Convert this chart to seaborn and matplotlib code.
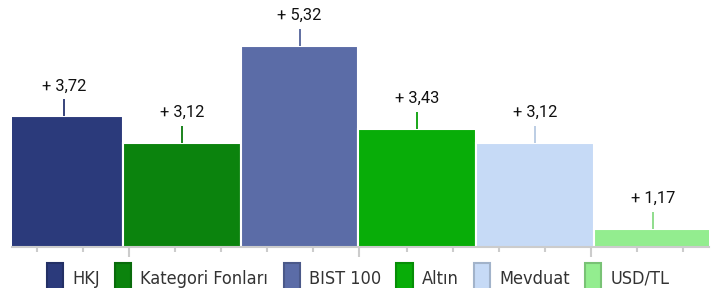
import matplotlib
matplotlib.use('Agg')
import matplotlib.pyplot as plt
import matplotlib.colors as mcolors
from matplotlib.patches import Patch
import seaborn as sns

# Chart data
categories = ['HKJ', 'Kategori Fonları', 'BIST 100', 'Altın', 'Mevduat', 'USD/TL']
values = [3.72, 3.12, 5.32, 3.43, 3.12, 1.17]
labels = ['+ 3,72', '+ 3,12', '+ 5,32', '+ 3,43', '+ 3,12', '+ 1,17']
colors = ['#2b3a7b', '#0b830d', '#5b6ca7', '#08ad08', '#c6daf6', '#93ed8f']


def darker(c, f=0.82):
    r, g, b = mcolors.to_rgb(c)
    return (r * f, g * f, b * f)


def plot_returns():
    sns.set_style('white')
    plt.rcParams['font.family'] = ['Roboto', 'DejaVu Sans']

    fig = plt.figure(figsize=(7.28, 2.88), dpi=100)
    ax = fig.add_axes([12 / 728, 41 / 288, 697 / 728, 247 / 288])

    sns.barplot(x=categories, y=values, hue=categories, palette=colors,
                saturation=1, width=1.0, edgecolor='white', linewidth=1.5,
                legend=False, ax=ax)

    # first bar is partly cut by the left edge, like the original
    ax.set_xlim(-0.443, 5.477)
    ax.set_ylim(0.76, 6.36)

    # small stems + value labels above the bars
    stem = 0.385
    for i, (v, lab, c) in enumerate(zip(values, labels, colors)):
        ax.vlines(i, v, v + stem, color=darker(c, 0.92), linewidth=1.3)
        ax.annotate(lab, (i, v + stem), xytext=(0, 6.5), textcoords='offset points',
                    ha='center', va='baseline', fontsize=11.8, color='#111111')

    for s in ['top', 'left', 'right']:
        ax.spines[s].set_visible(False)
    ax.spines['bottom'].set_color('#cccccc')
    ax.spines['bottom'].set_linewidth(1.5)

    major = [0.551, 2.505, 4.476]
    minor = [-0.231, 0.160, 0.942, 1.333, 1.724, 2.114, 2.913, 3.304,
             3.695, 4.086, 4.867, 5.258]
    ax.set_xticks(major)
    ax.set_xticks(minor, minor=True)
    ax.set_xticklabels([])
    ax.set_yticks([])
    ax.tick_params(axis='x', which='major', length=7.5, width=1.5, color='#cccccc', bottom=True)
    ax.tick_params(axis='x', which='minor', length=3.8, width=1.5, color='#cccccc', bottom=True)
    ax.set_xlabel('')
    ax.set_ylabel('')

    handles = [Patch(facecolor=c, edgecolor=darker(c), linewidth=1.5) for c in colors]
    fig.legend(handles, categories, loc='center', bbox_to_anchor=(0.492, 0.035),
               ncol=6, frameon=False, handlelength=0.9, handleheight=2.1,
               handletextpad=0.5, columnspacing=0.85,
               prop={'family': 'DejaVu Sans', 'stretch': 'condensed', 'size': 13},
               labelcolor='#333333')

    fig.savefig('out.png', dpi=100)


if __name__ == "__main__":
    plot_returns()
